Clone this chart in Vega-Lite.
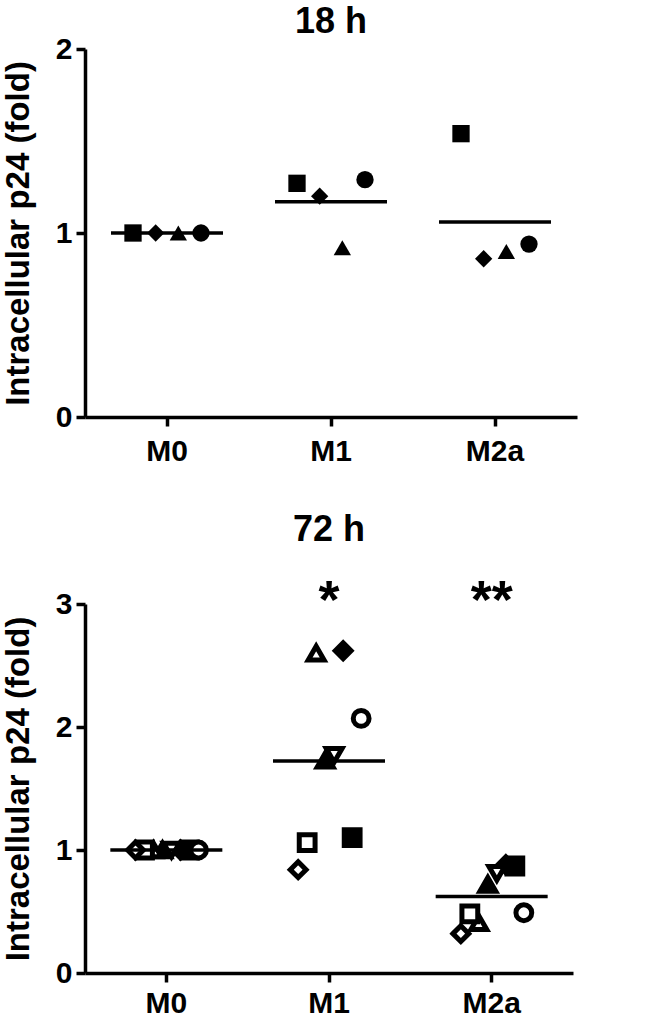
{
  "$schema": "https://vega.github.io/schema/vega-lite/v6.json",
  "padding": {"left": 2, "top": 4, "right": 5, "bottom": 0},
  "config": {
    "font": "Liberation Sans",
    "view": {"stroke": null},
    "axis": {
      "domainColor": "black", "domainWidth": 3.5,
      "tickColor": "black", "tickWidth": 3.5, "tickSize": 9,
      "labelFont": "Liberation Sans", "labelFontWeight": "bold", "labelColor": "black",
      "titleFont": "Liberation Sans", "titleFontWeight": "bold", "titleColor": "black",
      "grid": false
    },
    "axisX": {"labelFontSize": 30, "labelPadding": 10, "labelAngle": 0, "title": null},
    "axisY": {"labelFontSize": 30, "labelPadding": 4, "titleFontSize": 33, "titlePadding": 20, "format": "d"},
    "title": {"fontSize": 36, "fontWeight": "bold", "color": "black", "font": "Liberation Sans", "anchor": "middle"},
    "concat": {"spacing": 46}
  },
  "datasets": {
    "h18": [
      {"group": "M0", "donor": "d1", "value": 1.0},
      {"group": "M0", "donor": "d2", "value": 1.0},
      {"group": "M0", "donor": "d3", "value": 1.0},
      {"group": "M0", "donor": "d4", "value": 1.0},
      {"group": "M1", "donor": "d1", "value": 1.27},
      {"group": "M1", "donor": "d2", "value": 1.20},
      {"group": "M1", "donor": "d3", "value": 0.92},
      {"group": "M1", "donor": "d4", "value": 1.29},
      {"group": "M2a", "donor": "d1", "value": 1.54},
      {"group": "M2a", "donor": "d2", "value": 0.86},
      {"group": "M2a", "donor": "d3", "value": 0.90},
      {"group": "M2a", "donor": "d4", "value": 0.94}
    ],
    "h72": [
      {"group": "M0", "donor": "e1", "value": 1.0},
      {"group": "M0", "donor": "e2", "value": 1.0},
      {"group": "M0", "donor": "e3", "value": 1.0},
      {"group": "M0", "donor": "e4", "value": 1.0},
      {"group": "M0", "donor": "e5", "value": 1.0},
      {"group": "M0", "donor": "e6", "value": 1.0},
      {"group": "M0", "donor": "e7", "value": 1.0},
      {"group": "M0", "donor": "e8", "value": 1.0},
      {"group": "M1", "donor": "e1", "value": 1.10},
      {"group": "M1", "donor": "e2", "value": 2.62},
      {"group": "M1", "donor": "e3", "value": 1.73},
      {"group": "M1", "donor": "e4", "value": 2.07},
      {"group": "M1", "donor": "e5", "value": 2.60},
      {"group": "M1", "donor": "e6", "value": 1.77},
      {"group": "M1", "donor": "e7", "value": 1.06},
      {"group": "M1", "donor": "e8", "value": 0.84},
      {"group": "M2a", "donor": "e1", "value": 0.87},
      {"group": "M2a", "donor": "e2", "value": 0.88},
      {"group": "M2a", "donor": "e3", "value": 0.72},
      {"group": "M2a", "donor": "e4", "value": 0.49},
      {"group": "M2a", "donor": "e5", "value": 0.41},
      {"group": "M2a", "donor": "e6", "value": 0.81},
      {"group": "M2a", "donor": "e7", "value": 0.48},
      {"group": "M2a", "donor": "e8", "value": 0.32}
    ],
    "sig72": [
      {"group": "M1", "sig": "*"},
      {"group": "M2a", "sig": "**"}
    ]
  },
  "resolve": {"scale": {"x": "independent", "y": "independent", "xOffset": "independent"}},
  "vconcat": [
    {
      "title": {"text": "18 h", "offset": -7},
      "width": 492,
      "height": 368,
      "data": {"name": "h18"},
      "layer": [
        {
          "mark": {"type": "point", "opacity": 1, "size": 300, "strokeWidth": 0},
          "encoding": {
            "x": {"field": "group", "type": "nominal", "sort": ["M0", "M1", "M2a"], "scale": {"paddingInner": 0, "paddingOuter": 0}},
            "xOffset": {"field": "donor", "type": "nominal", "scale": {"domain": ["d1", "d2", "d3", "d4"], "range": [48, 116], "padding": 0}},
            "y": {"field": "value", "type": "quantitative", "scale": {"domain": [0, 2], "nice": false}, "axis": {"values": [0, 1, 2], "title": "Intracellular p24 (fold)"}},
            "shape": {"field": "donor", "type": "nominal", "legend": null,
              "scale": {"domain": ["d1", "d2", "d3", "d4", "e1", "e2", "e3", "e4", "e5", "e6", "e7", "e8"],
                        "range": ["square", "diamond", "triangle-up", "circle", "square", "diamond", "triangle-up", "circle", "triangle-up", "triangle-down", "square", "diamond"]}},
            "fill": {"field": "donor", "type": "nominal", "legend": null,
              "scale": {"domain": ["d1", "d2", "d3", "d4", "e1", "e2", "e3", "e4", "e5", "e6", "e7", "e8"],
                        "range": ["black", "black", "black", "black", "black", "black", "black", "white", "white", "white", "white", "white"]}}
          }
        },
        {
          "mark": {"type": "tick", "color": "black", "size": 112, "thickness": 3.5, "opacity": 1},
          "encoding": {
            "x": {"field": "group", "type": "nominal", "sort": ["M0", "M1", "M2a"]},
            "y": {"aggregate": "mean", "field": "value", "type": "quantitative"}
          }
        }
      ]
    },
    {
      "title": {"text": "72 h", "offset": 26},
      "width": 488,
      "height": 369,
      "layer": [
        {
          "data": {"name": "h72"},
          "mark": {"type": "point", "opacity": 1, "size": 250, "stroke": "black", "strokeWidth": 5},
          "encoding": {
            "x": {"field": "group", "type": "nominal", "sort": ["M0", "M1", "M2a"], "scale": {"paddingInner": 0, "paddingOuter": 0}, "axis": {"labelPadding": 6}},
            "xOffset": {"field": "donor", "type": "nominal", "scale": {"domain": ["e8", "e7", "e5", "e3", "e6", "e2", "e1", "e4"], "range": [50.5, 113.5], "padding": 0}},
            "y": {"field": "value", "type": "quantitative", "scale": {"domain": [0, 3], "nice": false}, "axis": {"values": [0, 1, 2, 3], "title": "Intracellular p24 (fold)"}},
            "shape": {"field": "donor", "type": "nominal", "legend": null,
              "scale": {"domain": ["d1", "d2", "d3", "d4", "e1", "e2", "e3", "e4", "e5", "e6", "e7", "e8"],
                        "range": ["square", "diamond", "triangle-up", "circle", "square", "diamond", "triangle-up", "circle", "triangle-up", "triangle-down", "square", "diamond"]}},
            "fill": {"field": "donor", "type": "nominal", "legend": null,
              "scale": {"domain": ["d1", "d2", "d3", "d4", "e1", "e2", "e3", "e4", "e5", "e6", "e7", "e8"],
                        "range": ["black", "black", "black", "black", "black", "black", "black", "white", "white", "white", "white", "white"]}}
          }
        },
        {
          "data": {"name": "h72"},
          "mark": {"type": "tick", "color": "black", "size": 112, "thickness": 3.5, "opacity": 1},
          "encoding": {
            "x": {"field": "group", "type": "nominal", "sort": ["M0", "M1", "M2a"]},
            "y": {"aggregate": "mean", "field": "value", "type": "quantitative"}
          }
        },
        {
          "data": {"name": "sig72"},
          "mark": {"type": "text", "font": "Liberation Sans", "fontWeight": "bold", "fontSize": 54, "baseline": "alphabetic", "dy": 14, "color": "black"},
          "encoding": {
            "x": {"field": "group", "type": "nominal", "sort": ["M0", "M1", "M2a"]},
            "y": {"datum": 3},
            "text": {"field": "sig"}
          }
        }
      ]
    }
  ]
}
